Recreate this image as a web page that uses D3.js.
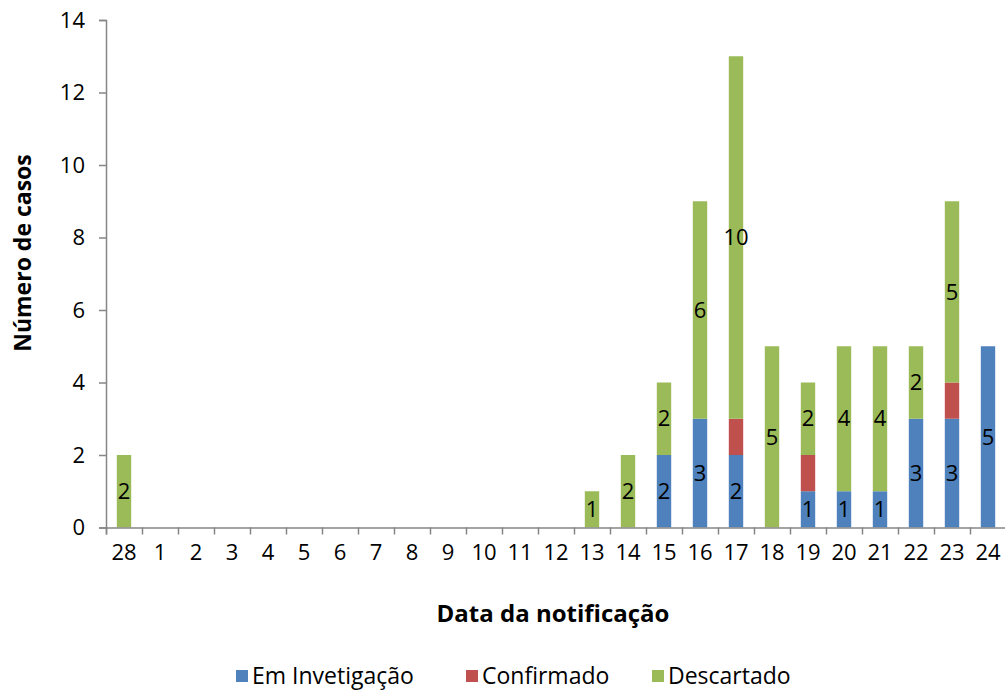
<!DOCTYPE html>
<html lang="pt">
<head>
    <meta charset="utf-8">
    <title>Número de casos por data da notificação</title>
    <script src="https://d3js.org/d3.v7.min.js"></script>
    <style>
        body { margin: 0; background: #fff; }
        text { font-family: "Open Sans", "Noto Sans", sans-serif; fill: #000; }
    </style>
</head>
<body>
    <script>
        // categories (dates of notification)
        const dias = ["28","1","2","3","4","5","6","7","8","9","10","11","12",
                      "13","14","15","16","17","18","19","20","21","22","23","24"];

        // series values
        const emInvestigacao = [0,0,0,0,0,0,0,0,0,0,0,0,0, 0,0,2,3,2,0,1,1,1,3,3,5];
        const confirmado     = [0,0,0,0,0,0,0,0,0,0,0,0,0, 0,0,0,0,1,0,1,0,0,0,1,0];
        const descartado     = [2,0,0,0,0,0,0,0,0,0,0,0,0, 1,2,2,6,10,5,2,4,4,2,5,0];

        const yTicks = [0, 2, 4, 6, 8, 10, 12, 14];

        const seriesNames = ["Em Invetigação", "Confirmado", "Descartado"];
        const colors = ["#4F81BD", "#C0504D", "#9BBB59"];
        const showLabels = [true, false, true];

        // build table for stacking
        const table = dias.map((d, i) => ({
            dia: d,
            "Em Invetigação": emInvestigacao[i],
            "Confirmado": confirmado[i],
            "Descartado": descartado[i]
        }));

        const W = 1005, H = 691;
        const svg = d3.select("body").append("svg")
            .attr("width", W)
            .attr("height", H);

        svg.append("rect").attr("width", W).attr("height", H).attr("fill", "#fff");

        // scales
        const x = d3.scaleBand().domain(dias).range([106, 1006]);
        const xEdge = d3.scaleLinear().domain([0, dias.length]).range([106, 1006]);
        const y = d3.scaleLinear().domain([0, 14]).range([527.5, 20]);
        const barW = x.bandwidth() * 0.4;

        const stacked = d3.stack().keys(seriesNames)(table);

        // bars
        const layers = svg.append("g").selectAll("g")
            .data(stacked)
            .join("g")
            .attr("fill", (d, i) => colors[i]);

        layers.selectAll("rect")
            .data(d => d)
            .join("rect")
            .attr("x", d => x(d.data.dia) + (x.bandwidth() - barW) / 2)
            .attr("width", barW)
            .attr("y", d => y(d[1]))
            .attr("height", d => y(d[0]) - y(d[1]));

        // data labels (none on Confirmado)
        stacked.forEach((layer, i) => {
            if (!showLabels[i]) return;
            svg.append("g").selectAll("text")
                .data(layer.filter(d => d[1] - d[0] > 0))
                .join("text")
                .attr("x", d => x(d.data.dia) + x.bandwidth() / 2)
                .attr("y", d => y((d[0] + d[1]) / 2))
                .attr("dy", "0.35em")
                .attr("text-anchor", "middle")
                .style("font-size", "22px")
                .text(d => d[1] - d[0]);
        });

        // y axis
        const yAxis = svg.append("g")
            .attr("transform", "translate(106,0)")
            .call(d3.axisLeft(y).tickValues(yTicks).tickSize(7).tickPadding(14));
        yAxis.selectAll("text").style("font-size", "22px");

        // x axis: ticks between categories
        svg.append("g")
            .attr("transform", "translate(0,527.5)")
            .call(d3.axisBottom(xEdge).ticks(dias.length).tickFormat("").tickSize(7));

        const xLabels = svg.append("g")
            .attr("transform", "translate(0,527.5)")
            .call(d3.axisBottom(x).tickSize(0).tickPadding(17));
        xLabels.select(".domain").remove();
        xLabels.selectAll("text").style("font-size", "22px");

        svg.selectAll(".domain, .tick line").attr("stroke", "#868686").attr("stroke-width", 1.5);

        // axis titles
        svg.append("text")
            .attr("transform", "translate(31,253) rotate(-90)")
            .attr("text-anchor", "middle")
            .style("font-size", "23px")
            .style("font-weight", "bold")
            .text("Número de casos");

        svg.append("text")
            .attr("x", 553)
            .attr("y", 622)
            .attr("text-anchor", "middle")
            .style("font-size", "24px")
            .style("font-weight", "bold")
            .text("Data da notificação");

        // legend
        const legendX = [236, 466, 652];
        const legend = svg.append("g").selectAll("g")
            .data(seriesNames)
            .join("g")
            .attr("transform", (d, i) => "translate(" + legendX[i] + ",676)");

        legend.append("rect")
            .attr("x", 0).attr("y", -6)
            .attr("width", 12).attr("height", 12)
            .attr("fill", (d, i) => colors[i]);

        legend.append("text")
            .attr("x", 16)
            .attr("dy", "0.35em")
            .style("font-size", "23px")
            .text(d => d);
    </script>
</body>
</html>
